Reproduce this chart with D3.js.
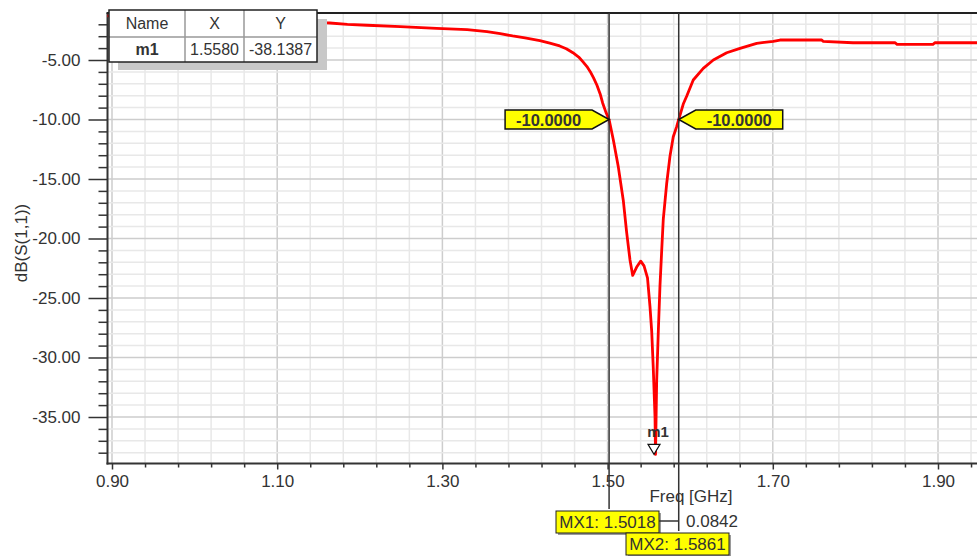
<!DOCTYPE html>
<html><head><meta charset="utf-8">
<script src="https://cdn.jsdelivr.net/npm/d3@7"></script>
<style>body{margin:0;background:#fff;overflow:hidden} text{font-family:"Liberation Sans",Arial,sans-serif;fill:#333}</style>
</head><body><svg id="c" width="977" height="556"></svg>
<script>
// ---- data ----
const freq = [0.894, 0.95, 1.00, 1.05, 1.10, 1.15, 1.16, 1.185, 1.209, 1.249,
  1.293, 1.330, 1.354, 1.370, 1.385, 1.400, 1.418, 1.430, 1.442, 1.450,
  1.458, 1.465, 1.470, 1.475, 1.479, 1.483, 1.487, 1.491, 1.494, 1.498,
  1.5018, 1.5069, 1.513, 1.519, 1.5231, 1.5271, 1.5304, 1.5352, 1.5401, 1.5441,
  1.5483, 1.5513, 1.5534, 1.5553, 1.5574, 1.558, 1.5594, 1.5614, 1.5634, 1.5655,
  1.5674, 1.5715, 1.5755, 1.5795, 1.5836, 1.5861, 1.5916, 1.5957, 1.6037, 1.6158,
  1.628, 1.6442, 1.6603, 1.6805, 1.7006, 1.7087, 1.7592, 1.7608, 1.7971, 1.8479,
  1.8504, 1.8939, 1.8964, 1.95];
const s11 = [-1.30, -1.45, -1.55, -1.63, -1.70, -1.78, -1.87, -2.00, -2.08, -2.20,
  -2.34, -2.45, -2.62, -2.78, -2.98, -3.15, -3.37, -3.58, -3.82, -4.05,
  -4.39, -4.75, -5.14, -5.55, -5.98, -6.50, -7.10, -7.85, -8.61, -9.40,
  -10.0, -11.7, -14.0, -16.8, -19.5, -21.8, -23.1, -22.4, -21.9, -22.3,
  -23.3, -25.7, -27.8, -30.9, -35.0, -38.14, -32.0, -27.8, -24.0, -21.0,
  -18.4, -15.4, -13.1, -11.45, -10.6, -10.0, -8.70, -8.05, -6.68, -5.70,
  -5.00, -4.39, -4.02, -3.60, -3.43, -3.32, -3.32, -3.43, -3.55, -3.55,
  -3.68, -3.68, -3.55, -3.55];
const xTicks = [0.90, 1.10, 1.30, 1.50, 1.70, 1.90];
const yTicks = [-5, -10, -15, -20, -25, -30, -35];
const markerNames = ["m1"];
const markerX = [1.5580];
const markerY = [-38.1387];
const mxNames = ["MX1", "MX2"];
const mxFreq = [1.5018, 1.5861];
const mxLevel = [-10.0, -10.0];
const mxDelta = 0.0842;
const xTitle = "Freq [GHz]";
const yTitle = "dB(S(1,1))";

// ---- layout ----
const svg = d3.select("#c");
const L = 107.5, T = 13, B = 463.5, R = 980;
const x = d3.scaleLinear().domain([0.9, 1.95]).range([112, 112 + 1.05 * 826]);
const y = d3.scaleLinear().domain([-5, -35]).range([60, 417]);

svg.append("defs").append("clipPath").attr("id", "plot")
  .append("rect").attr("x", L).attr("y", T).attr("width", R - L).attr("height", B - T);

// grid
const gGrid = svg.append("g");
const vMinor = d3.range(0, 27).map(i => +(0.9 + i * 0.04).toFixed(2));
const hMinor = d3.range(-2, -39, -1);
gGrid.selectAll(".vm").data(vMinor).join("line")
  .attr("x1", d => x(d)).attr("x2", d => x(d)).attr("y1", T).attr("y2", B)
  .attr("stroke", d => xTicks.some(t => Math.abs(t - d) < 1e-6) ? "#cdcdcd" : "#e8e8e8").attr("stroke-width", 1.5);
gGrid.selectAll(".hm").data(hMinor).join("line")
  .attr("y1", d => y(d)).attr("y2", d => y(d)).attr("x1", L).attr("x2", R)
  .attr("stroke", d => d % 5 === 0 ? "#cdcdcd" : "#e8e8e8").attr("stroke-width", 1.5);

// axes
const yAx = svg.append("g").attr("transform", `translate(${L},0)`)
  .call(d3.axisLeft(y).tickValues(yTicks).tickSize(19).tickPadding(8).tickFormat(d => d.toFixed(2)));
const yAxMinor = svg.append("g").attr("transform", `translate(${L},0)`)
  .call(d3.axisLeft(y).tickValues(hMinor.filter(d => d % 5 !== 0)).tickSize(9).tickFormat(""));
const xAx = svg.append("g").attr("transform", `translate(0,${B})`)
  .call(d3.axisBottom(x).tickValues(xTicks).tickSize(6).tickPadding(5).tickFormat(d => d.toFixed(2)));
const xAxMinor = svg.append("g").attr("transform", `translate(0,${B})`)
  .call(d3.axisBottom(x).tickValues(vMinor.filter(d => !xTicks.some(t => Math.abs(t - d) < 1e-6))).tickSize(4).tickFormat(""));
[yAx, yAxMinor, xAx, xAxMinor].forEach(g => {
  g.select(".domain").remove();
  g.selectAll("line").attr("stroke", "#333").attr("stroke-width", 1.5);
  g.selectAll("text").attr("font-size", 17).attr("fill", "#333")
    .style("font-family", '"Liberation Sans", Arial, sans-serif');
});

// frame
svg.append("line").attr("x1", L).attr("x2", L).attr("y1", T).attr("y2", B + 1).attr("stroke", "#333").attr("stroke-width", 2);
svg.append("line").attr("x1", L - 1).attr("x2", R).attr("y1", B).attr("y2", B).attr("stroke", "#333").attr("stroke-width", 2);
svg.append("line").attr("x1", L - 1).attr("x2", R).attr("y1", T).attr("y2", T).attr("stroke", "#222").attr("stroke-width", 2);

// titles
svg.append("text").attr("x", 691).attr("y", 502).attr("text-anchor", "middle").attr("font-size", 17).text(xTitle);
svg.append("text").attr("transform", "translate(27,243) rotate(-90)").attr("text-anchor", "middle").attr("font-size", 17).text(yTitle);

// curve
const pts = freq.map((f, i) => [f, s11[i]]);
svg.append("path").datum(pts).attr("clip-path", "url(#plot)")
  .attr("fill", "none").attr("stroke", "#ff0000").attr("stroke-width", 2.8).attr("stroke-linejoin", "round")
  .attr("d", d3.line().x(d => x(d[0])).y(d => y(d[1])));

// MX vertical lines
const lineBottoms = [509, 531];
mxFreq.forEach((f, i) => {
  svg.append("line").attr("x1", x(f)).attr("x2", x(f)).attr("y1", T).attr("y2", lineBottoms[i])
    .attr("stroke", "#333").attr("stroke-width", 1.5);
});

// -10 flags
function flag(px, py, dir, label) {
  const w = 87, tip = 17, h = 9.5;
  const c = px + dir * tip, e = px + dir * (tip + w);
  const p = [[px, py], [c, py - h], [e, py - h], [e, py + h], [c, py + h]];
  svg.append("polygon").attr("points", p.map(q => q.join(",")).join(" "))
    .attr("fill", "#ffff00").attr("stroke", "#111").attr("stroke-width", 1.5);
  svg.append("text").attr("x", (c + e) / 2).attr("y", py + 6).attr("text-anchor", "middle")
    .attr("font-size", 16.5).attr("font-weight", "bold").attr("fill", "#222").text(label);
}
flag(x(mxFreq[0]), y(mxLevel[0]), -1, mxLevel[0].toFixed(4));
flag(x(mxFreq[1]), y(mxLevel[1]), 1, mxLevel[1].toFixed(4));

// MX boxes
const boxes = [{x: 556, y: 511}, {x: 626, y: 533}];
mxNames.forEach((n, i) => {
  const b = boxes[i];
  svg.append("rect").attr("x", b.x + 2).attr("y", b.y + 2).attr("width", 103).attr("height", 22).attr("fill", "#9a9a9a");
  svg.append("rect").attr("x", b.x).attr("y", b.y).attr("width", 103).attr("height", 22)
    .attr("fill", "#ffff00").attr("stroke", "#222").attr("stroke-width", 1);
  svg.append("text").attr("x", b.x + 51.5).attr("y", b.y + 17).attr("text-anchor", "middle")
    .attr("font-size", 17).attr("fill", "#222").text(`${n}: ${mxFreq[i].toFixed(4)}`);
});
svg.append("line").attr("x1", 659).attr("x2", x(mxFreq[1])).attr("y1", 521).attr("y2", 521).attr("stroke", "#333").attr("stroke-width", 1.5);
svg.append("text").attr("x", 686).attr("y", 527).attr("font-size", 17).text(mxDelta.toFixed(4));

// m1 marker
markerNames.forEach((n, i) => {
  const mx = x(markerX[i]) - 1.5, my = y(markerY[i]);
  svg.append("polygon").attr("points", `${mx - 6},${my - 10} ${mx + 6},${my - 10} ${mx},${my}`)
    .attr("fill", "#fff").attr("stroke", "#111").attr("stroke-width", 1.2);
  svg.append("text").attr("x", mx + 4).attr("y", my - 17).attr("text-anchor", "middle")
    .attr("font-size", 15).attr("font-weight", "bold").attr("fill", "#222").text(n);
});

// marker table
const tb = {x: 109, y: 10, w: 208, h: 52};
svg.append("rect").attr("x", tb.x + 9).attr("y", tb.y + 9).attr("width", tb.w + 1).attr("height", tb.h - 1).attr("fill", "#c8c8c8");
svg.append("rect").attr("x", tb.x).attr("y", tb.y).attr("width", tb.w).attr("height", tb.h).attr("fill", "#fff");
const cols = [109, 185, 244, 317];
svg.append("line").attr("x1", tb.x).attr("x2", tb.x + tb.w).attr("y1", 37).attr("y2", 37).attr("stroke", "#999").attr("stroke-width", 1.5);
[185, 244].forEach(cx => svg.append("line").attr("x1", cx).attr("x2", cx).attr("y1", tb.y).attr("y2", tb.y + tb.h).attr("stroke", "#999").attr("stroke-width", 1.5));
svg.append("rect").attr("x", tb.x).attr("y", tb.y).attr("width", tb.w).attr("height", tb.h).attr("fill", "none").attr("stroke", "#222").attr("stroke-width", 1.5);
const header = ["Name", "X", "Y"];
const row = [markerNames[0], markerX[0].toFixed(4), markerY[0].toFixed(4)];
header.forEach((h, j) => svg.append("text").attr("x", (cols[j] + cols[j + 1]) / 2).attr("y", 29)
  .attr("text-anchor", "middle").attr("font-size", 16).text(h));
row.forEach((h, j) => svg.append("text").attr("x", (cols[j] + cols[j + 1]) / 2).attr("y", 55)
  .attr("text-anchor", "middle").attr("font-size", 16).attr("font-weight", j === 0 ? "bold" : "normal").text(h));
</script></body></html>
